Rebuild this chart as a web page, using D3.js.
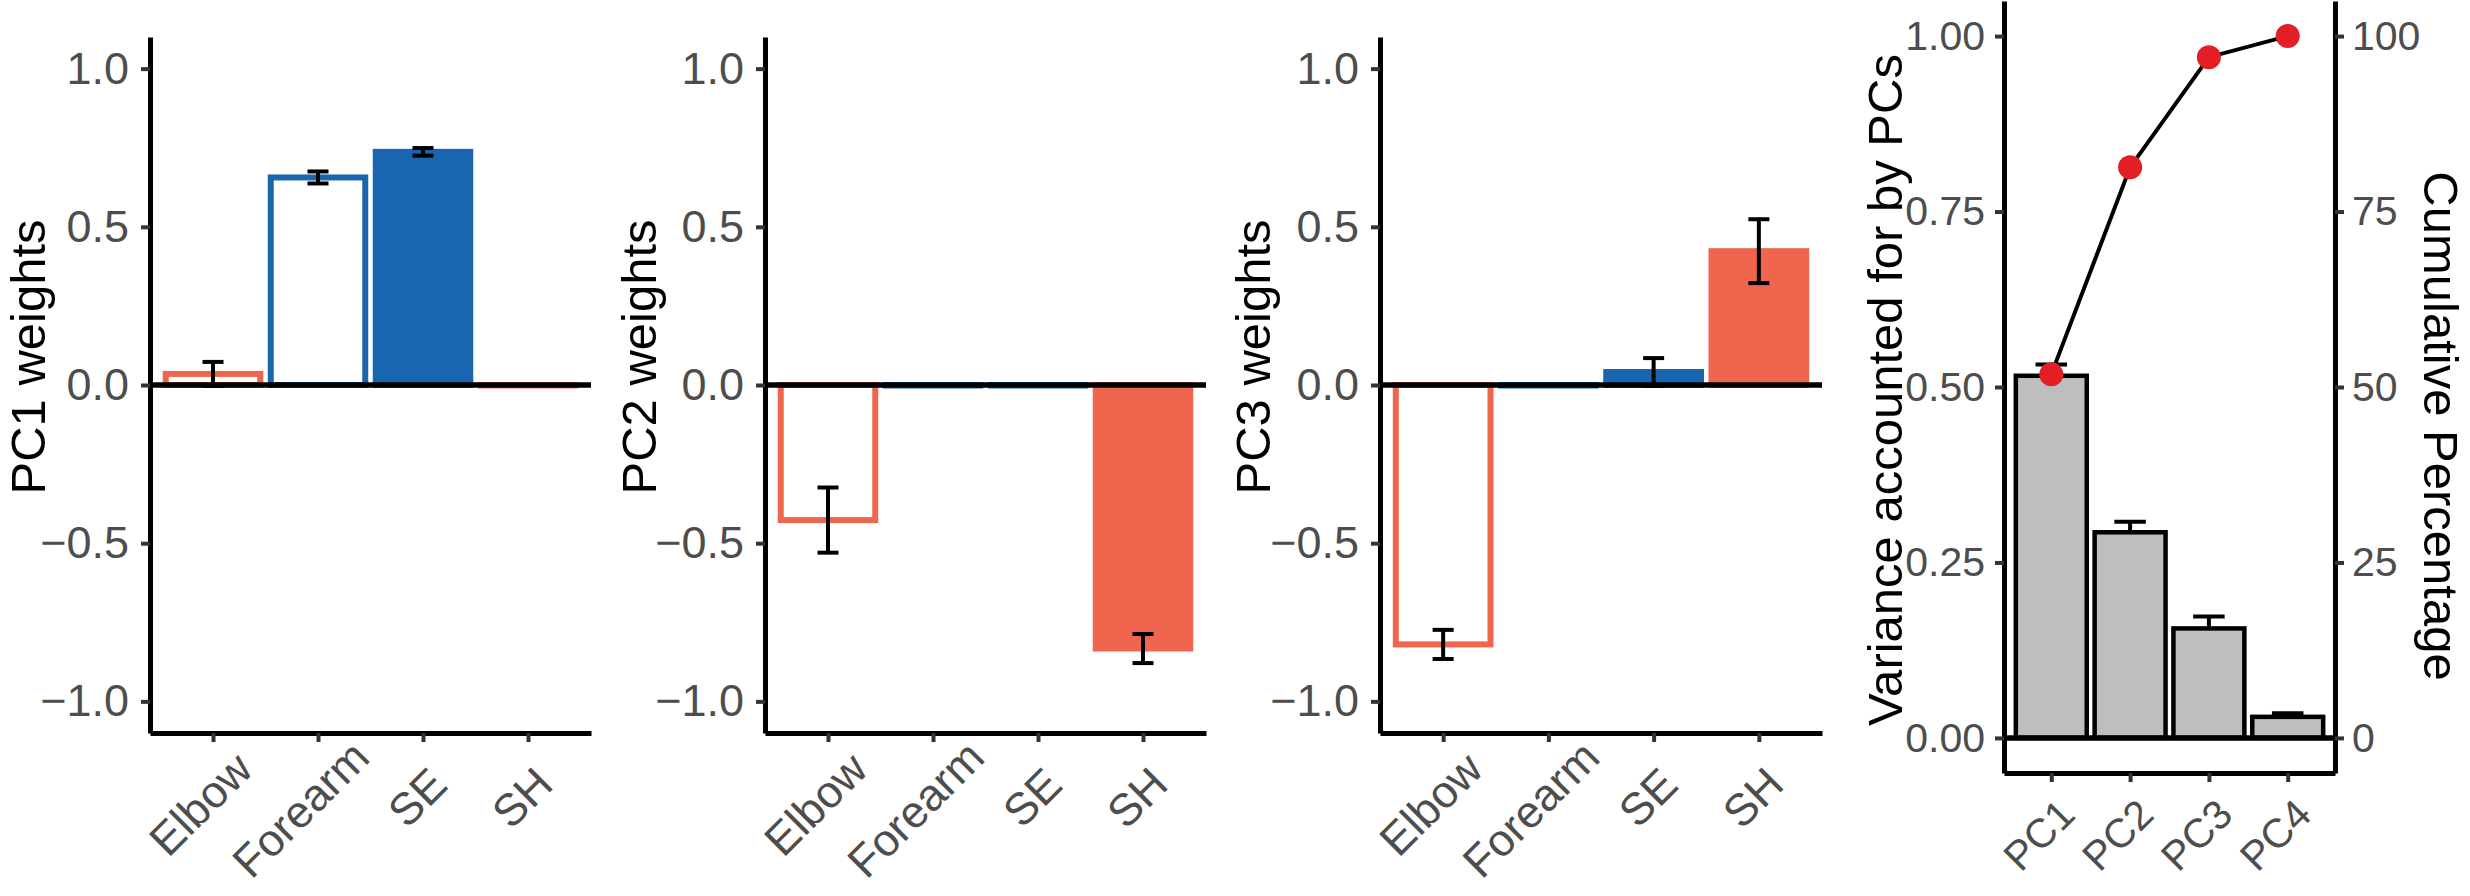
<!DOCTYPE html>
<html>
<head>
<meta charset="utf-8">
<script src="https://cdn.jsdelivr.net/npm/d3@7"></script>
<style>
  body { margin: 0; background: #fff; }
  svg { display: block; font-family: "Liberation Sans", Arial, sans-serif; }
</style>
</head>
<body>
<div id="chart"></div>
<script>
// Data -------------------------------------------------
const joints = ["Elbow", "Forearm", "SE", "SH"]
const pc1Mean = [0.035, 0.656, 0.737, 0.0]
const pc1Err = [0.038, 0.019, 0.012, 0]
const pc2Mean = [-0.427, 0.0, 0.0, -0.833]
const pc2Err = [0.103, 0, 0, 0.046]
const pc3Mean = [-0.82, 0.0, 0.041, 0.423]
const pc3Err = [0.046, 0, 0.044, 0.101]
const jointColor = ["#F0654D", "#1A65B0", "#1A65B0", "#F0654D"]
const jointFilled = [false, false, true, true]
const weightTicks = [-1, -0.5, 0, 0.5, 1]

const pcs = ["PC1", "PC2", "PC3", "PC4"]
const varMean = [0.516, 0.293, 0.156, 0.030]
const varErr = [0.016, 0.015, 0.017, 0.005]
const cumPct = [51.8, 81.3, 97.0, 100]
const varTicks = [0, 0.25, 0.5, 0.75, 1]
const pctTicks = [0, 25, 50, 75, 100]

// Canvas setup -----------------------------------------
const WIDTH = 2470
const HEIGHT = 896
const TEXT_GREY = "#4D4D4D"
const TICK_GREY = "#333333"

const svg = d3.select("#chart").append("svg")
    .attr("width", WIDTH)
    .attr("height", HEIGHT)

function styleAxis(g, fontSize){
    g.select(".domain").attr("stroke", "#000").attr("stroke-width", 5)
    g.selectAll(".tick line").attr("stroke", TICK_GREY).attr("stroke-width", 4)
    g.selectAll(".tick text")
        .attr("fill", TEXT_GREY)
        .style("font-size", fontSize + "px")
        .style("font-family", "Liberation Sans, Arial, sans-serif")
}

// 45 degree labels, longer words sit a bit further down-left
function rotateX(g, dx, dy, shift){
    g.selectAll(".tick text")
        .attr("y", 0).attr("dy", "0.35em")
        .attr("transform", `translate(${dx},${dy}) rotate(-45)`)
        .style("text-anchor", "middle")
        .attr("x", function(){ return -shift * this.getComputedTextLength() })
}

// Weight panels (PC1..PC3) ----------------------------
function drawWeights(left, right, title, titleX, means, errs){
    const x = d3.scalePoint().domain(joints).range([left, right]).padding(0.6)
    const y = d3.scaleLinear().domain([-1.1, 1.1]).range([733, 37])
    const bw = x.step() * 0.9
    const g = svg.append("g")

    // bars
    g.selectAll("rect.bar").data(joints).join("rect")
        .attr("class", "bar")
        .attr("x", d => x(d) - bw / 2)
        .attr("width", bw)
        .attr("y", (d, i) => y(Math.max(0, means[i])))
        .attr("height", (d, i) => Math.max(0.5, Math.abs(y(means[i]) - y(0))))
        .attr("fill", (d, i) => jointFilled[i] ? jointColor[i] : "#fff")
        .attr("stroke", (d, i) => jointColor[i])
        .attr("stroke-width", 6)

    // zero line
    g.append("line")
        .attr("x1", left).attr("x2", right)
        .attr("y1", y(0)).attr("y2", y(0))
        .attr("stroke", "#000").attr("stroke-width", 5.5)

    // error bars
    const cap = x.step() * 0.1
    const eg = g.append("g").attr("stroke", "#000").attr("stroke-width", 4)
    joints.forEach((d, i) => {
        if (errs[i] <= 0) return
        const cx = x(d)
        const lo = y(means[i] - errs[i]), hi = y(means[i] + errs[i])
        eg.append("line").attr("x1", cx).attr("x2", cx).attr("y1", lo).attr("y2", hi)
        eg.append("line").attr("x1", cx - cap).attr("x2", cx + cap).attr("y1", hi).attr("y2", hi)
        eg.append("line").attr("x1", cx - cap).attr("x2", cx + cap).attr("y1", lo).attr("y2", lo)
    })

    // axes
    const yAx = g.append("g")
        .attr("transform", `translate(${left},0)`)
        .call(d3.axisLeft(y).tickValues(weightTicks).tickFormat(d3.format(".1f"))
            .tickSize(9).tickPadding(12).tickSizeOuter(0))
    styleAxis(yAx, 45)

    const xAx = g.append("g")
        .attr("transform", `translate(0,733)`)
        .call(d3.axisBottom(x).tickSize(9).tickSizeOuter(0))
    styleAxis(xAx, 45)
    rotateX(xAx, 0, 58, 0.15)

    g.append("text")
        .attr("transform", `translate(${titleX},357) rotate(-90)`)
        .attr("text-anchor", "middle")
        .style("font-size", "49px")
        .attr("fill", "#000")
        .text(title)
}

drawWeights(150, 591, "PC1 weights", 45, pc1Mean, pc1Err)
drawWeights(765, 1206, "PC2 weights", 656, pc2Mean, pc2Err)
drawWeights(1380, 1822, "PC3 weights", 1270, pc3Mean, pc3Err)

// Variance panel ---------------------------------------
const L4 = 2004, R4 = 2335
const x4 = d3.scalePoint().domain(pcs).range([L4, R4]).padding(0.6)
const y4 = d3.scaleLinear().domain([-0.05, 1.05]).range([773, 1])
const yPct = d3.scaleLinear().domain([-5, 105]).range([773, 1])
const g4 = svg.append("g")
const bw4 = x4.step() * 0.9
const cap4 = x4.step() * 0.2

// error bars (drawn first so the bar hides the lower half)
pcs.forEach((d, i) => {
    const cx = x4(d)
    g4.append("line")
        .attr("x1", cx).attr("x2", cx)
        .attr("y1", y4(varMean[i] - varErr[i])).attr("y2", y4(varMean[i] + varErr[i]))
        .attr("stroke", "#000").attr("stroke-width", 4)
    g4.append("line")
        .attr("x1", cx - cap4).attr("x2", cx + cap4)
        .attr("y1", y4(varMean[i] + varErr[i])).attr("y2", y4(varMean[i] + varErr[i]))
        .attr("stroke", "#000").attr("stroke-width", 4)
})

g4.selectAll("rect.var").data(pcs).join("rect")
    .attr("class", "var")
    .attr("x", d => x4(d) - bw4 / 2)
    .attr("width", bw4)
    .attr("y", (d, i) => y4(varMean[i]))
    .attr("height", (d, i) => y4(0) - y4(varMean[i]))
    .attr("fill", "#BEBEBE")
    .attr("stroke", "#000")
    .attr("stroke-width", 4.5)

g4.append("line")
    .attr("x1", L4).attr("x2", R4)
    .attr("y1", y4(0)).attr("y2", y4(0))
    .attr("stroke", "#000").attr("stroke-width", 5.5)

const cumLine = d3.line()
    .x((d, i) => x4(pcs[i]))
    .y(d => yPct(d))

g4.append("path")
    .attr("d", cumLine(cumPct))
    .attr("fill", "none")
    .attr("stroke", "#000")
    .attr("stroke-width", 4)

g4.selectAll("circle.cum").data(cumPct).join("circle")
    .attr("class", "cum")
    .attr("cx", (d, i) => x4(pcs[i]))
    .attr("cy", d => yPct(d))
    .attr("r", 12)
    .attr("fill", "#E31E24")

const yAx4 = g4.append("g")
    .attr("transform", `translate(${L4},0)`)
    .call(d3.axisLeft(y4).tickValues(varTicks).tickFormat(d3.format(".2f"))
        .tickSize(9).tickPadding(10).tickSizeOuter(0))
styleAxis(yAx4, 41)

const yAxR = g4.append("g")
    .attr("transform", `translate(${R4},0)`)
    .call(d3.axisRight(yPct).tickValues(pctTicks).tickFormat(d3.format("d"))
        .tickSize(9).tickPadding(8).tickSizeOuter(0))
styleAxis(yAxR, 41)

const xAx4 = g4.append("g")
    .attr("transform", `translate(0,773)`)
    .call(d3.axisBottom(x4).tickSize(9).tickSizeOuter(0))
styleAxis(xAx4, 41)
rotateX(xAx4, -13, 62, 0)

g4.append("text")
    .attr("transform", `translate(1902,390) rotate(-90)`)
    .attr("text-anchor", "middle")
    .style("font-size", "49px")
    .text("Variance accounted for by PCs")

g4.append("text")
    .attr("transform", `translate(2424,426) rotate(90)`)
    .attr("text-anchor", "middle")
    .style("font-size", "49px")
    .text("Cumulative Percentage")
</script>
</body>
</html>
